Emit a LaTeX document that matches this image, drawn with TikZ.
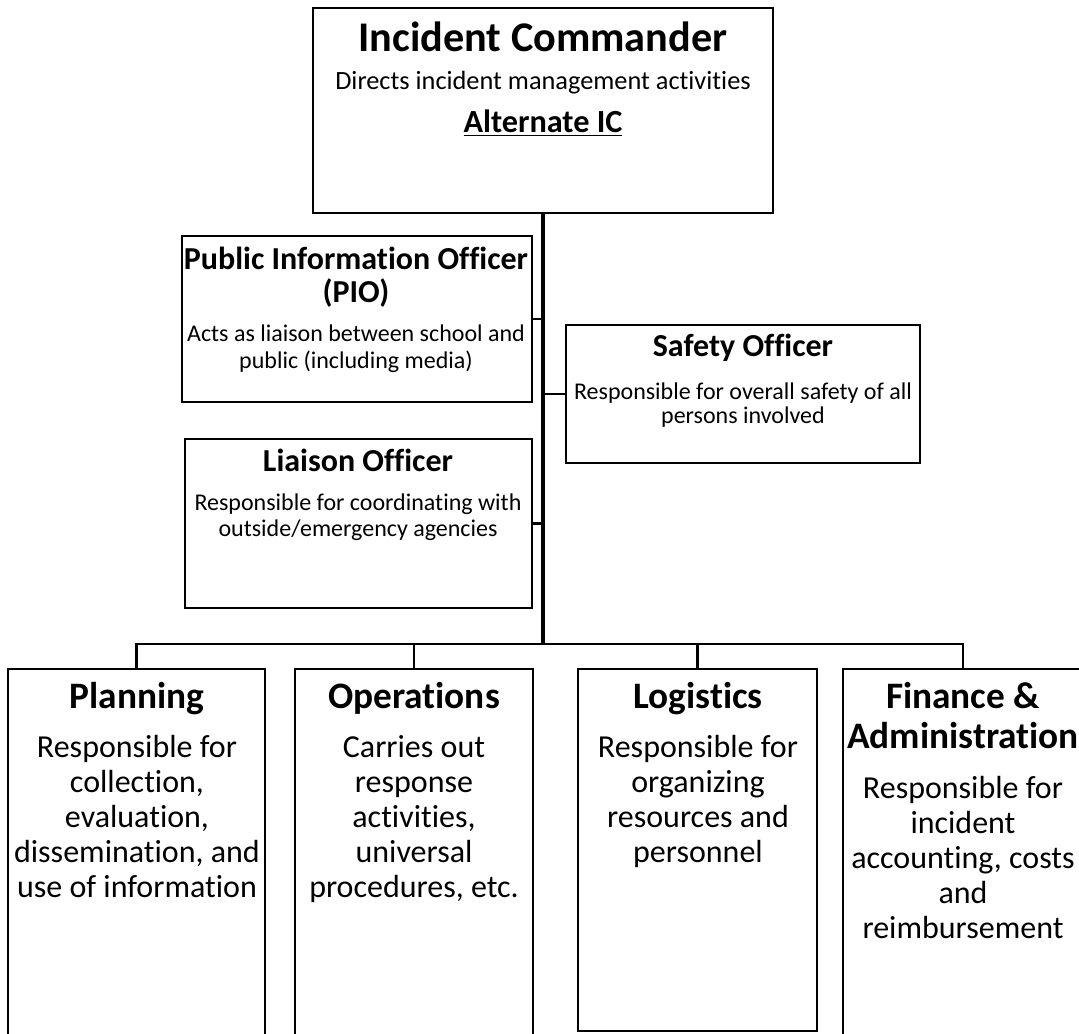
\documentclass[tikz,border=0pt]{standalone}
\usepackage{fontspec}
\setmainfont{Carlito}[Ligatures={NoCommon}]
\begin{document}
\begin{tikzpicture}[x=0.75pt,y=-0.75pt,
  unit/.style={draw, line width=1.8pt, inner sep=0pt},
  conn/.style={line width=1.9pt},
  trunk/.style={line width=2.4pt},
  lbl/.style={anchor=base, inner sep=0pt, align=flush center, text width=340pt},
  bigtitle/.style={font=\bfseries\fontsize{31.7}{36}\selectfont},
  midtitle/.style={font=\bfseries\fontsize{24}{24.75}\selectfont},
  smallbody/.style={font=\fontsize{18}{#1}\selectfont},
  coltitle/.style={font=\bfseries\fontsize{28}{30}\selectfont},
  colbody/.style={font=\fontsize{24}{26.25}\selectfont}]
\useasboundingbox (0,0) rectangle (1079,1034);
\clip (0,0) rectangle (1079,1034);
% boxes
\node[unit, line width=2.2pt, minimum width=345pt, minimum height=153.75pt] (ic) at (543,110.5) {};
\node[unit, minimum width=262.5pt, minimum height=124.5pt] (pio) at (357,319) {};
\node[unit, minimum width=260.25pt, minimum height=126.75pt] (lia) at (358.5,523.5) {};
\node[unit, minimum width=265.5pt, minimum height=103.5pt] (saf) at (743,394) {};
\node[unit, minimum width=192.75pt, minimum height=293.25pt] (plan) at (136.5,864.5) {};
\node[unit, minimum width=178.5pt, minimum height=293.25pt] (ops) at (414,864.5) {};
\node[unit, minimum width=179.25pt, minimum height=271.5pt] (log) at (697.5,850) {};
\node[unit, minimum width=180pt, minimum height=293.25pt] (fin) at (963,864.5) {};
% connectors
\coordinate (bar) at (543,644);
\draw[trunk] (ic.south) -- (bar);
\draw[conn] (pio.east) -- (pio.east -| bar);
\draw[conn] (lia.east) -- (lia.east -| bar);
\draw[conn] (saf.west) -- (saf.west -| bar);
\draw[conn] (plan.north) -- (plan.north |- bar) -- (fin.north |- bar) -- (fin.north);
\draw[conn] (ops.north) -- (ops.north |- bar);
\draw[conn] (log.north) -- (log.north |- bar);
% texts
\node[lbl, bigtitle] (ict) at (543,52) {Incident Commander};
\node[lbl, font=\fontsize{19.75}{24}\selectfont] (icd) at (543,90) {Directs incident management activities};
\node[lbl, font=\bfseries\fontsize{24.2}{28}\selectfont] (ica) at (543,133) {\underline{Alternate IC}};
\node[lbl, midtitle] (piot) at (356,270) {Public Information Officer\\(PIO)};
\node[lbl, smallbody=20.25] (piod) at (356,342) {Acts as liaison between school and\\public (including media)};
\node[lbl, midtitle] (liat) at (358,471) {Liaison Officer};
\node[lbl, smallbody=19.5] (liad) at (358,510) {Responsible for coordinating with\\outside/emergency agencies};
\node[lbl, midtitle] (saft) at (743,357) {Safety Officer};
\node[lbl, smallbody=18] (safd) at (743,400) {Responsible for overall safety of all\\persons involved};
\node[lbl, coltitle] (plant) at (137,708) {Planning};
\node[lbl, colbody] (pland) at (137,757) {Responsible for\\collection,\\evaluation,\\dissemination, and\\use of information};
\node[lbl, coltitle] (opst) at (414,708) {Operations};
\node[lbl, colbody] (opsd) at (414,757) {Carries out\\response\\activities,\\universal\\procedures, etc.};
\node[lbl, coltitle] (logt) at (698,708) {Logistics};
\node[lbl, colbody] (logd) at (698,757) {Responsible for\\organizing\\resources and\\personnel};
\node[lbl, coltitle] (fint) at (963,708) {Finance \&\\Administration};
\node[lbl, colbody] (find) at (963,798) {Responsible for\\incident\\accounting, costs\\and\\reimbursement};
\end{tikzpicture}
\end{document}
